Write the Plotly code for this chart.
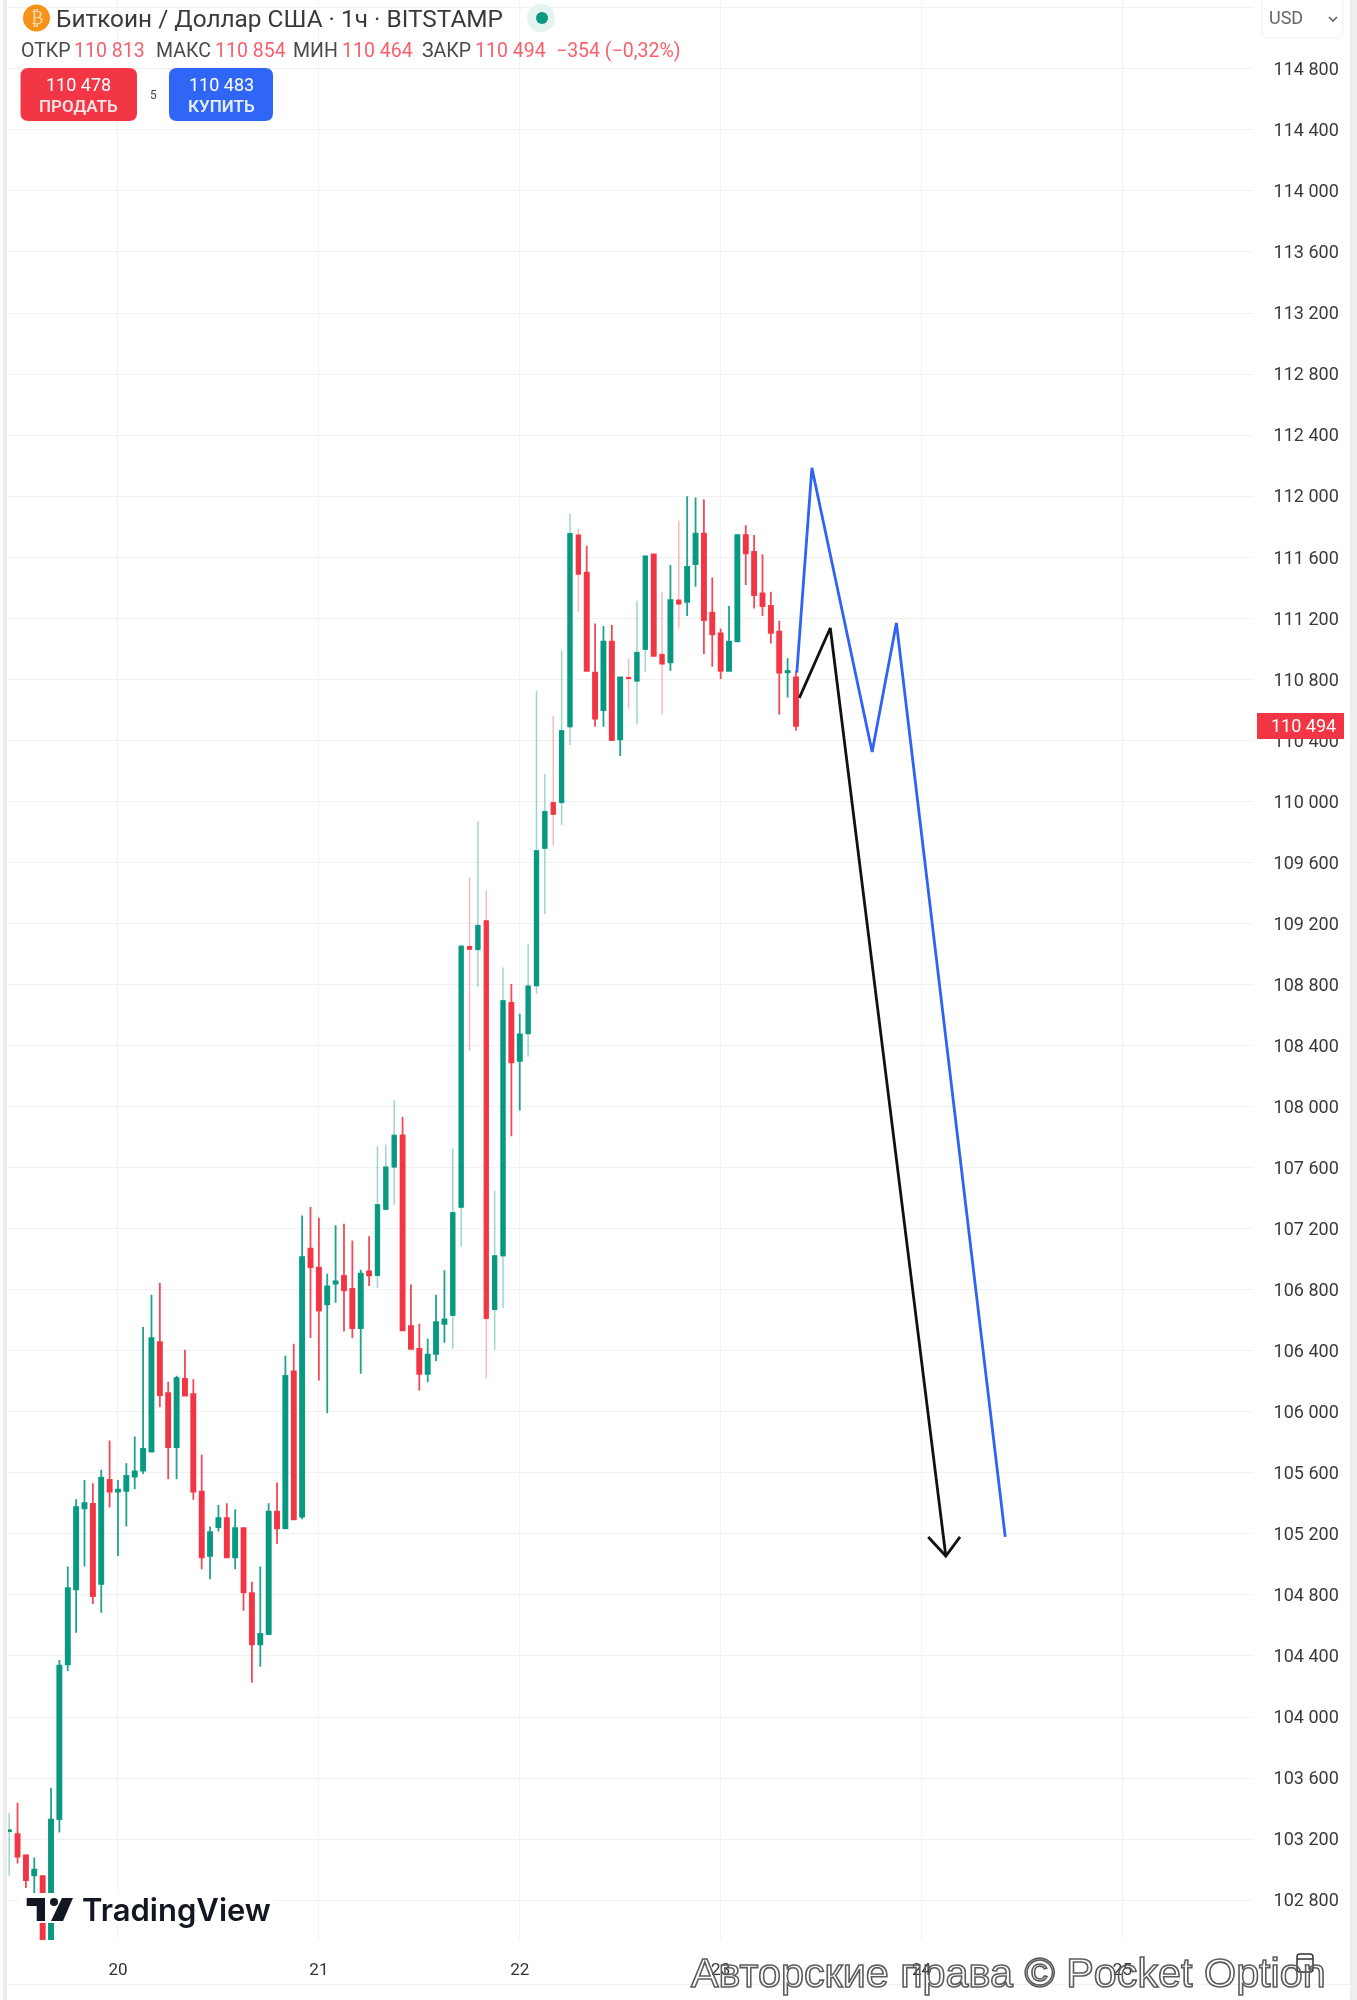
import numpy as np
import plotly.graph_objects as go

# hours after 20th 00:00
hours = list(range(-13, 82))
opens = [103250,103233,103094,102962,102957,102500,103332,104345,104837,105368,105397,104872,105554,
 105477,105482,105576,105615,105740,106457,106122,105768,106216,106116,105477,105056,105244,105303,105047,
 105237,104811,104476,104544,105346,105237,106264,105313,107069,106944,106704,106840,106890,106806,106548,
 106920,106894,107327,107604,107812,106562,106413,106249,106380,106577,106632,107341,109049,109029,109217,
 106670,107022,108679,108300,108478,108792,109693,109992,109992,110489,111745,111498,110843,110598,111046,
 110406,110812,110788,110996,111618,110963,110911,111319,111308,111555,111755,111236,111101,110856,111048,
 111745,111635,111363,111280,111112,110846,110813]
closes = [103260,103085,102931,103000,102500,103328,104336,104844,105375,105401,104793,105569,105477,
 105490,105580,105609,105757,106483,106109,105768,106221,106107,105477,105047,105211,105303,105047,105237,
 104817,104476,104544,105346,105237,106236,105296,107014,106949,106664,106822,106855,106796,106548,106905,
 106894,107357,107604,107812,106533,106413,106249,106374,106588,106605,107305,109051,109031,109187,106612,
 107022,108694,108290,108473,108790,109677,109933,109915,110463,111755,111489,110856,110542,111046,110402,
 110812,110805,110976,111607,110954,110900,111319,111293,111537,111755,111188,111094,110856,111046,111745,
 111625,111352,111280,111105,110843,110853,110494]
highs = [103372,103438,103094,103079,102957,103535,104373,104986,105427,105554,105532,105620,105812,
 105554,105663,105838,106555,106767,106844,106197,106236,106407,106214,105718,105248,105390,105401,105362,
 105237,104887,104986,105401,105536,106367,106446,107287,107342,107272,106905,107222,107233,107123,106931,
 107150,107740,107751,108042,107932,106835,106577,106479,106767,106927,107725,109060,109501,109870,109418,
 107449,108911,108803,108609,109066,110725,110179,110559,110991,111886,111784,111675,111166,111149,111155,
 110812,110937,111315,111607,111618,111373,111548,111838,112000,111991,111978,111467,111133,111280,111745,
 111810,111745,111620,111373,111184,110937,110854]
lows = [102962,103041,102880,102847,102500,102500,103244,104301,104553,104986,104741,104684,105373,
 105056,105248,105493,105593,105740,106030,105558,105558,106107,105423,104968,104903,105215,105047,104968,
 104697,104227,104330,104544,105134,105237,105296,105296,106483,106205,105990,106715,106527,106483,106249,
 106824,106811,107327,107357,106533,106413,106140,106194,106332,106452,106413,107082,108365,108785,106218,
 106406,106682,107805,107974,108328,108740,109262,109710,109845,110369,111242,110856,110489,110489,110402,
 110297,110609,110505,110850,110954,110570,110856,111133,111214,111406,110965,110882,110802,110856,111048,
 111417,111264,111214,111035,110570,110681,110464]
faint_hours = [-13,31,32,33,40,41,42,43,44,45,46,49,50,51,52,53,54,55,61,62,63,65,67]

price_ticks = list(range(102800, 115600, 400))
price_labels = ["{} {:03d}".format(p // 1000, p % 1000) if p < 115000 else "" for p in price_ticks]
day_ticks = [0, 24, 48, 72, 96, 120]
day_labels = ["20", "21", "22", "23", "24", "25"]

blue_hours = [81.1, 82.9, 90.1, 93.0, 106.0]
blue_prices = [110843, 112185, 110324, 111169, 105180]
black_hours = [81.4, 85.1, 98.9]
black_prices = [110678, 111136, 105055]
head_hours = [96.8, 98.9, 100.6]
head_prices = [105180, 105055, 105180]

last_price = 110494
ohlc_names = ["ОТКР", "МАКС", "МИН", "ЗАКР"]
ohlc_values = ["110 813", "110 854", "110 464", "110 494"]
change_text = "−354 (−0,32%)"
title_text = "Биткоин / Доллар США · 1ч · BITSTAMP"
sell_price, buy_price, spread = "110 478", "110 483", "5"

UP, DOWN = "#089981", "#f23645"
W, H = 1357, 2000
L, R, T, B = 8, 1253, 0, 1940

def rgba(h, a):
    return "rgba({},{},{},{})".format(int(h[1:3], 16), int(h[3:5], 16), int(h[5:7], 16), a)

def X(px): return (px - L) / (R - L)
def Y(py): return 1 - (py - T) / (B - T)

def rrect(x0, y0, x1, y1, r):
    a, b, c, d = X(x0), Y(y0), X(x1), Y(y1)
    rx, ry = r / (R - L), r / (B - T)
    return (f"M{a+rx},{b} L{c-rx},{b} Q{c},{b} {c},{b-ry} L{c},{d+ry} Q{c},{d} {c-rx},{d} "
            f"L{a+rx},{d} Q{a},{d} {a},{d+ry} L{a},{b-ry} Q{a},{b} {a+rx},{b} Z")

def poly(pts):
    return "M" + " L".join(f"{X(x)},{Y(y)}" for x, y in pts) + " Z"

o, h, l, c, t = map(np.array, (opens, highs, lows, closes, hours))
faint = np.isin(t, faint_hours)

fig = go.Figure()
def candles(mask, hi, lo, up, dn, width):
    fig.add_trace(go.Candlestick(
        x=t[mask], open=o[mask], high=hi[mask], low=lo[mask], close=c[mask],
        increasing=dict(line=dict(color=up, width=width), fillcolor=up),
        decreasing=dict(line=dict(color=dn, width=width), fillcolor=dn),
        whiskerwidth=0, hoverinfo="skip", showlegend=False))

candles(~faint, h, l, rgba(UP, .9), rgba(DOWN, .9), 1.8)
candles(faint, h, l, rgba(UP, .4), rgba(DOWN, .35), 1.5)
everything = np.ones_like(t, dtype=bool)
candles(everything, np.maximum(o, c), np.minimum(o, c), UP, DOWN, 1.0)

for xs, ys, col in ((blue_hours, blue_prices, "#2f62f5"),
                    (black_hours, black_prices, "#111111"),
                    (head_hours, head_prices, "#111111")):
    fig.add_trace(go.Scatter(x=xs, y=ys, mode="lines", line=dict(color=col, width=2.8),
                             hoverinfo="skip", showlegend=False))

shapes, ann = [], []
def rect(x0, y0, x1, y1, fill):
    shapes.append(dict(type="rect", xref="paper", yref="paper", x0=X(x0), x1=X(x1), y0=Y(y1), y1=Y(y0),
                       fillcolor=fill, line_width=0, layer="above"))
def circle(x0, y0, x1, y1, fill):
    shapes.append(dict(type="circle", xref="paper", yref="paper", x0=X(x0), x1=X(x1), y0=Y(y1), y1=Y(y0),
                       fillcolor=fill, line_width=0, layer="above"))
def text(x, y, s, size, color, anchor="left", weight=None, family="Roboto"):
    f = dict(size=size, color=color, family=family)
    if weight: f["weight"] = weight
    ann.append(dict(xref="paper", yref="paper", x=X(x), y=Y(y), text=s, showarrow=False, font=f,
                    xanchor=anchor, yanchor="middle", borderpad=0, borderwidth=0))

# window edges and bottom rule
rect(3, 0, 7, 2000, "#ececec")
rect(1350, 0, 1357, 2000, "#eeeeee")
rect(8, 1984, 1350, 1985, "#f1f1f1")

# title row
circle(23, 4.5, 50, 31.5, "#f7931a")
text(36.5, 18, "₿", 18, "#ffd9a8", "center", family="DejaVu Sans")
text(56, 19, title_text, 24.4, "#3a3a3a")
circle(527, 4, 555, 32, "#e3f3f0")
circle(536, 12, 548, 24, "#089981")

# OHLC row
for name, nx, val, vx in zip(ohlc_names, [21, 156, 293, 422], ohlc_values, [74, 215, 342, 475]):
    text(nx, 50, name, 19.5, "#4a4a4a")
    text(vx, 50, val, 19.5, "#f7606c")
text(556, 50, change_text, 19.5, "#f7606c")

# buttons
shapes.append(dict(type="path", xref="paper", yref="paper", path=rrect(20.5, 68, 137, 121, 8),
                   fillcolor="#f23645", line_width=0, layer="above"))
shapes.append(dict(type="path", xref="paper", yref="paper", path=rrect(169, 68, 273, 121, 8),
                   fillcolor="#2f66f5", line_width=0, layer="above"))
text(78.5, 85, sell_price, 18, "#ffffff", "center")
text(78.5, 106, "ПРОДАТЬ", 17, "#ffe3e5", "center", weight=600)
text(221, 85, buy_price, 18, "#ffffff", "center")
text(221, 106, "КУПИТЬ", 17, "#e6edff", "center", weight=600)
text(153, 95, spread, 12, "#444444", "center")

# currency button
shapes.append(dict(type="path", xref="paper", yref="paper", path=rrect(1262, -2, 1343, 38, 6),
                   fillcolor="#ffffff", line=dict(color="#eeeeee", width=1), layer="above"))
text(1269, 18, "USD", 18, "#666666")
shapes.append(dict(type="path", xref="paper", yref="paper",
                   path=f"M{X(1329)},{Y(17)} L{X(1333)},{Y(21)} L{X(1337)},{Y(17)}",
                   line=dict(color="#666666", width=1.6), layer="above"))

# last price tag
shapes.append(dict(type="rect", xref="paper", yref="y", x0=X(1257), x1=X(1344),
                   y0=last_price - 85, y1=last_price + 85, fillcolor="#f23645", line_width=0, layer="above"))
ann.append(dict(xref="paper", yref="y", x=X(1303), y=last_price, text="110 494", showarrow=False,
                font=dict(size=18, color="#ffffff", family="Roboto"), xanchor="center", yanchor="middle"))

# TradingView logo
rect(20, 1893, 274, 1923, "#ffffff")
for pts in ([(26.7, 1898), (45, 1898), (45, 1921), (36.7, 1921), (36.7, 1906), (26.7, 1906)],
            [(62, 1898), (73, 1898), (63, 1921), (51, 1921)]):
    shapes.append(dict(type="path", xref="paper", yref="paper", path=poly(pts),
                       fillcolor="#131722", line_width=0, layer="above"))
circle(50, 1898, 58, 1906, "#131722")
text(82, 1909, "TradingView", 31, "#131722", family="Inter", weight=600)

# calendar button under the watermark
shapes.append(dict(type="path", xref="paper", yref="paper", path=rrect(1297, 1954, 1313, 1972, 3),
                   line=dict(color="#333333", width=1.5), layer="above"))
shapes.append(dict(type="path", xref="paper", yref="paper", path=f"M{X(1297)},{Y(1959)} L{X(1313)},{Y(1959)}",
                   line=dict(color="#333333", width=1.5), layer="above"))

# watermark: an outlined, hollow caption (stroke set below so the labels beneath stay visible)
WATERMARK = "Авторские права © Pocket Option"
text(1008, 1973, WATERMARK, 41.3, "#ffffff", "center", family="Liberation Sans")

fig.update_layout(
    width=W, height=H, margin=dict(l=L, r=W - R, t=T, b=H - B),
    paper_bgcolor="#ffffff", plot_bgcolor="#ffffff", showlegend=False,
    shapes=shapes, annotations=ann,
    xaxis=dict(range=[-13.14, 135.6], tickmode="array", tickvals=day_ticks, ticktext=day_labels,
               showgrid=True, gridcolor="#f3f3f4", gridwidth=1, zeroline=False, showline=False,
               ticks="outside", ticklen=14, tickcolor="rgba(0,0,0,0)",
               tickfont=dict(size=17, color="#333333", family="Roboto"),
               rangeslider=dict(visible=False), fixedrange=True),
    yaxis=dict(range=[102539, 115251], side="right", tickmode="array", tickvals=price_ticks,
               ticktext=price_labels, showgrid=True, gridcolor="#f1f1f2", gridwidth=1, zeroline=False,
               showline=False, ticks="outside", ticklen=16, tickcolor="rgba(0,0,0,0)",
               tickfont=dict(size=18, color="#3a3a3a", family="Roboto"), fixedrange=True),
)
post = """
document.body.style.margin='0';document.body.style.overflow='hidden';
document.body.style.filter='blur(0.6px)';
document.querySelectorAll('.annotation-text').forEach(function(n){
  if(n.textContent.indexOf('Pocket Option')>=0){
    n.style.setProperty('fill','rgba(255,255,255,0)','important');
    n.style.setProperty('stroke','#5c5c5c');
    n.style.setProperty('stroke-width','1.6px');
  }
});
"""
fig.write_html("out.html", config=dict(displayModeBar=False), post_script=post)
